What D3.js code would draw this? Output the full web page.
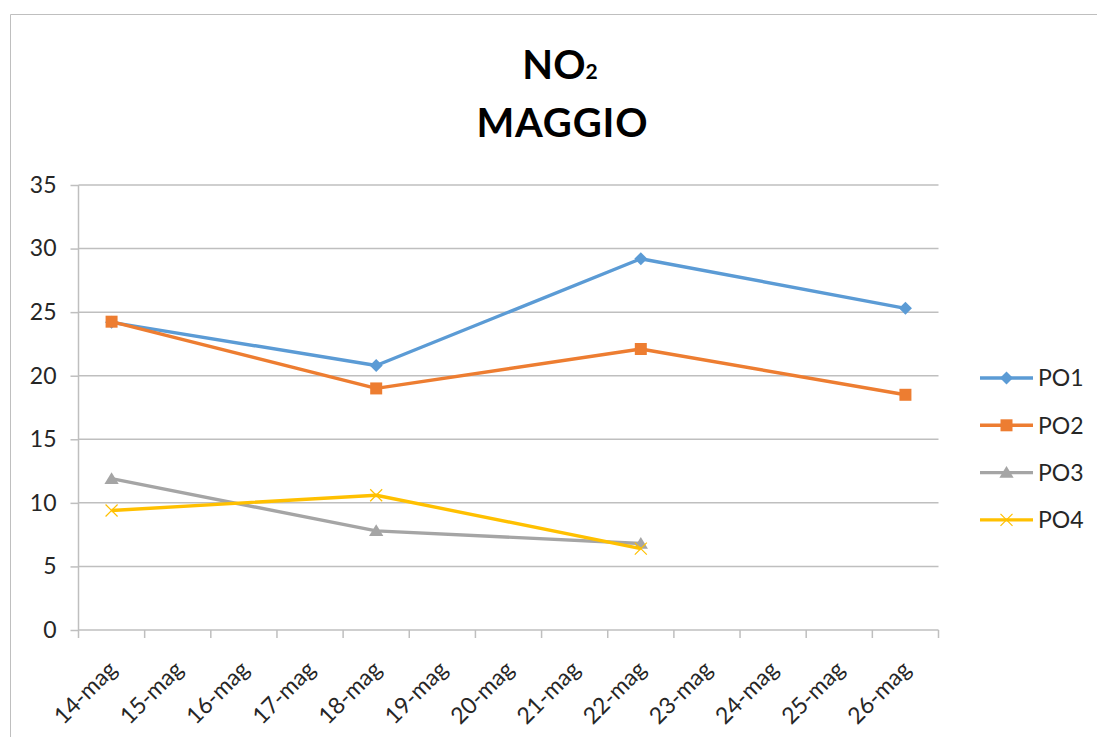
<!DOCTYPE html>
<html><head><meta charset="utf-8">
<script src="https://cdn.jsdelivr.net/npm/d3@7"></script>
<style>body{margin:0;background:#fff}svg{display:block}</style>
</head><body>
<script>
const categories = ["14-mag","15-mag","16-mag","17-mag","18-mag","19-mag","20-mag","21-mag","22-mag","23-mag","24-mag","25-mag","26-mag"];
const seriesNames = ["PO1","PO2","PO3","PO4"];
const po1 = [24.2,null,null,null,20.8,null,null,null,29.2,null,null,null,25.3];
const po2 = [24.25,null,null,null,19.0,null,null,null,22.1,null,null,null,18.5];
const po3 = [11.9,null,null,null,7.8,null,null,null,6.8,null,null,null,null];
const po4 = [9.4,null,null,null,10.6,null,null,null,6.4,null,null,null,null];
const yTicks = [0,5,10,15,20,25,30,35];
const colors = ["#5B9BD5","#ED7D31","#A5A5A5","#FFC000"];
const markers = ["diamond","square","triangle","cross"];

const W=1097,H=737;
const font="Lato, 'Open Sans', sans-serif";
const txt="#262626";
const svg=d3.select("body").append("svg").attr("width",W).attr("height",H);
svg.append("rect").attr("width",W).attr("height",H).attr("fill","#fff");
// outer frame
svg.append("path").attr("d","M10.5,"+H+"V14.5H"+W).attr("fill","none").attr("stroke","#bfbfbf").attr("stroke-width",1);

const x0=78.5,x1=938.5,yTop=185,yBot=630;
const x=d3.scaleBand().domain(categories).range([x0,x1]);
const y=d3.scaleLinear().domain([0,35]).range([yBot,yTop]);

// gridlines
svg.append("g").selectAll("line").data(yTicks.filter(d=>d>0)).join("line")
 .attr("x1",x0).attr("x2",x1).attr("y1",d=>y(d)).attr("y2",d=>y(d))
 .attr("stroke","#bfbfbf").attr("stroke-width",1.5);

// y axis
const ya=svg.append("g").attr("transform",`translate(${x0},0)`).call(d3.axisLeft(y).tickValues(yTicks).tickSize(8).tickPadding(10));
ya.select(".domain").attr("stroke","#bfbfbf").attr("stroke-width",1.5).attr("d",`M0,${yTop}V${yBot}`);
ya.selectAll(".tick line").attr("stroke","#bfbfbf").attr("stroke-width",1.5);
ya.selectAll("text").attr("font-family",font).attr("font-size",23).attr("fill",txt).attr("dx",-4);

// x axis
const xa=svg.append("g").attr("transform",`translate(0,${yBot})`).call(d3.axisBottom(x).tickSize(0).tickFormat(d=>d));
xa.select(".domain").attr("stroke","#bfbfbf").attr("stroke-width",1.5).attr("d",`M${x0},0H${x1}`);
xa.selectAll(".tick line").remove();
// boundary ticks
svg.append("g").selectAll("line").data(d3.range(categories.length+1)).join("line")
 .attr("x1",i=>x0+i*x.step()).attr("x2",i=>x0+i*x.step()).attr("y1",yBot).attr("y2",yBot+8)
 .attr("stroke","#bfbfbf").attr("stroke-width",1.5);
xa.selectAll(".tick text").attr("font-family",font).attr("font-size",23).attr("fill",txt)
 .attr("text-anchor","end").attr("y",0).attr("dy","0.35em")
 .attr("transform","translate(1,35) rotate(-45)");

// series
const data=[po1,po2,po3,po4];
const line=d3.line().defined(d=>d.v!=null).x(d=>x(d.c)+x.bandwidth()/2).y(d=>y(d.v));
function markerPath(type,s){
  if(type==="diamond") return `M0,${-s}L${s},0L0,${s}L${-s},0Z`;
  if(type==="square") return `M${-s},${-s}H${s}V${s}H${-s}Z`;
  if(type==="triangle") return `M0,${-s}L${s*1.1},${s*0.8}H${-s*1.1}Z`;
  return `M${-s},${-s}L${s},${s}M${s},${-s}L${-s},${s}`;
}
const sizes=[6.5,6,6.5,6];
data.forEach((vals,i)=>{
  const pts=vals.map((v,j)=>({c:categories[j],v})).filter(d=>d.v!=null);
  svg.append("path").datum(pts).attr("d",line).attr("fill","none").attr("stroke",colors[i]).attr("stroke-width",3.4).attr("stroke-linejoin","round");
  svg.append("g").selectAll("path").data(pts).join("path")
   .attr("transform",d=>`translate(${x(d.c)+x.bandwidth()/2},${y(d.v)})`)
   .attr("d",markerPath(markers[i],sizes[i]))
   .attr("fill",markers[i]==="cross"?"none":colors[i])
   .attr("stroke",colors[i]).attr("stroke-width",markers[i]==="cross"?1.2:0);
});

// legend
const lg=svg.append("g");
seriesNames.forEach((n,i)=>{
  const ly=378+i*47.3;
  lg.append("line").attr("x1",980).attr("x2",1033).attr("y1",ly).attr("y2",ly).attr("stroke",colors[i]).attr("stroke-width",3.4);
  lg.append("path").attr("transform",`translate(1006.5,${ly})`).attr("d",markerPath(markers[i],sizes[i]))
   .attr("fill",markers[i]==="cross"?"none":colors[i]).attr("stroke",colors[i]).attr("stroke-width",markers[i]==="cross"?1.2:0);
  lg.append("text").attr("x",1038).attr("y",ly).attr("dy","0.36em").attr("font-family",font).attr("font-size",23).attr("fill",txt).text(n);
});

// title
const t=svg.append("text").attr("x",560).attr("y",79).attr("text-anchor","middle").attr("font-family",font).attr("font-weight","bold").attr("font-size",40).attr("fill","#000");
t.append("tspan").text("NO");
t.append("tspan").attr("font-size",21).text("2");
svg.append("text").attr("x",562).attr("y",137).attr("text-anchor","middle").attr("font-family",font).attr("font-weight","bold").attr("font-size",40).attr("fill","#000")
 .attr("textLength",171).attr("lengthAdjust","spacing").text("MAGGIO");
</script>
</body></html>
